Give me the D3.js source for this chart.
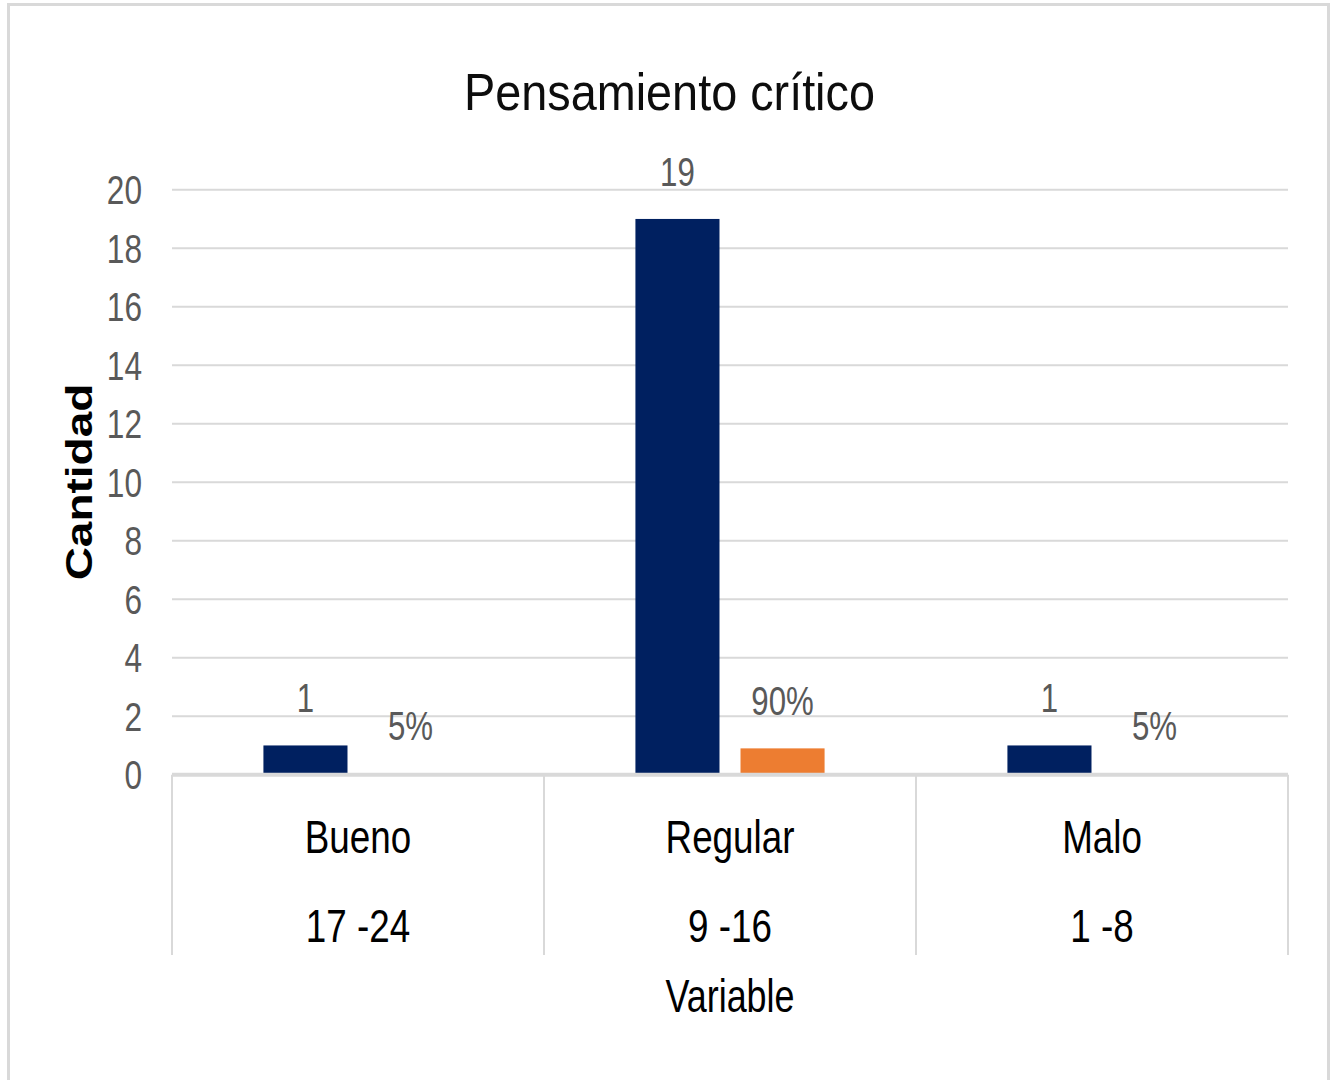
<!DOCTYPE html>
<html lang="es">
<head>
  <meta charset="UTF-8" />
  <title>Pensamiento crítico</title>
  <script src="https://d3js.org/d3.v7.min.js"></script>
  <style>
    body {
      margin: 0;
      background: #fff;
      overflow: hidden;
    }
    text {
      font-family: "Liberation Sans", Arial, sans-serif;
    }
  </style>
</head>
<body>
<svg width="1335" height="1080"></svg>
<script>
// data
const categories = ["Bueno", "Regular", "Malo"];
const ranges = ["17 -24", "9 -16", "1 -8"];
const cantidad = [1, 19, 1];
const porcentaje = [0.05, 0.90, 0.05];
const yTicks = [0, 2, 4, 6, 8, 10, 12, 14, 16, 18, 20];

const svg = d3.select("svg");
const plot = { left: 172, right: 1288, top: 189.7, bottom: 774.7 };
const sx = 0.8; // glyphs in the picture are horizontally condensed

// outer frame
svg.append("rect")
  .attr("x", 8.5).attr("y", 4.5)
  .attr("width", 1320).attr("height", 1100)
  .attr("fill", "#fff")
  .attr("stroke", "#d9d9d9")
  .attr("stroke-width", 3);

const x = d3.scaleBand()
  .domain(categories)
  .range([plot.left, plot.right]);

const xs = d3.scaleBand()
  .domain(["cantidad", "porcentaje"])
  .range([0, x.bandwidth()])
  .paddingInner(0.2)
  .paddingOuter(0.87);

const y = d3.scaleLinear()
  .domain([0, 20])
  .range([plot.bottom, plot.top]);

// helper for condensed text
function label(parent, tx, ty, str, opts) {
  const g = parent.append("g").attr("transform", `translate(${tx},${ty})`);
  g.append("text")
    .attr("transform", `scale(${opts.scale || sx},1)`)
    .attr("text-anchor", opts.anchor || "middle")
    .attr("font-size", opts.size)
    .attr("font-weight", opts.weight || "normal")
    .attr("fill", opts.color || "#000")
    .text(str);
  return g;
}

// gridlines
svg.append("g")
  .selectAll("line")
  .data(yTicks.filter(d => d > 0))
  .join("line")
  .attr("x1", plot.left).attr("x2", plot.right)
  .attr("y1", d => y(d)).attr("y2", d => y(d))
  .attr("stroke", "#d9d9d9")
  .attr("stroke-width", 2);

// y tick labels
const yLab = svg.append("g");
yTicks.forEach(t => {
  label(yLab, 142, y(t) + 14.3, String(t), { size: 40, anchor: "end", color: "#595959", scale: 0.79 });
});

// bars
const series = [
  { key: "cantidad", values: cantidad, color: "#002060" },
  { key: "porcentaje", values: porcentaje, color: "#ED7D31" }
];
const pct = d3.format(".0%");

series.forEach(s => {
  svg.append("g")
    .selectAll("rect")
    .data(categories)
    .join("rect")
    .attr("x", (c) => x(c) + xs(s.key))
    .attr("width", xs.bandwidth())
    .attr("y", (c, i) => y(s.values[i]))
    .attr("height", (c, i) => y(0) - y(s.values[i]))
    .attr("fill", s.color);
});

// data labels
const dl = svg.append("g");
series.forEach(s => {
  categories.forEach((c, i) => {
    const v = s.values[i];
    const txt = s.key === "porcentaje" ? pct(v) : String(v);
    label(dl, x(c) + xs(s.key) + xs.bandwidth() / 2, y(v) - 33, txt,
      { size: 40, color: "#595959", scale: 0.78 });
  });
});

// category axis: baseline and separators
svg.append("line")
  .attr("x1", plot.left).attr("x2", plot.right)
  .attr("y1", y(0)).attr("y2", y(0))
  .attr("stroke", "#d9d9d9")
  .attr("stroke-width", 4);

const seps = categories.map(c => x(c)).concat([plot.right]);
svg.append("g")
  .selectAll("line")
  .data(seps)
  .join("line")
  .attr("x1", d => d).attr("x2", d => d)
  .attr("y1", y(0)).attr("y2", 955)
  .attr("stroke", "#d9d9d9")
  .attr("stroke-width", 2);

const cl = svg.append("g");
categories.forEach((c, i) => {
  const cx = x(c) + x.bandwidth() / 2;
  label(cl, cx, 853, c, { size: 46 });
  label(cl, cx, 942, ranges[i], { size: 46 });
});

// axis titles
label(svg, (plot.left + plot.right) / 2, 1012, "Variable", { size: 46, scale: 0.78 });

svg.append("g")
  .attr("transform", "translate(92,482) rotate(-90) scale(1,0.8)")
  .append("text")
  .attr("text-anchor", "middle")
  .attr("font-size", 46)
  .attr("font-weight", "bold")
  .attr("fill", "#000")
  .text("Cantidad");

// chart title
label(svg, 669.5, 110, "Pensamiento crítico", { size: 52, color: "#0d0d0d", scale: 0.9 });
</script>
</body>
</html>
